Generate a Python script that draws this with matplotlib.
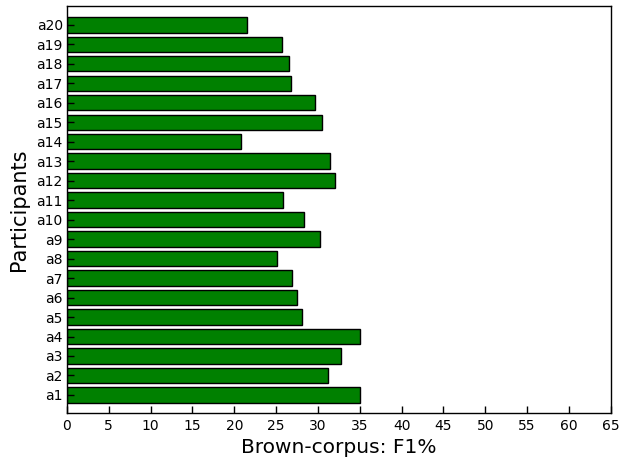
import matplotlib
matplotlib.use("Agg")
import matplotlib.pyplot as plt
import numpy as np

participants = [f"a{i}" for i in range(1, 21)]
f1_scores = [35.0, 31.2, 32.75, 35.0, 28.1, 27.55, 26.9, 25.05, 30.2, 28.3,
             25.8, 32.1, 31.5, 20.8, 30.5, 29.6, 26.75, 26.5, 25.7, 21.5]
x_ticks = list(range(0, 70, 5))

fig = plt.figure(figsize=(6.2, 4.62), dpi=100)
ax = fig.add_axes([0.108, 0.1055, 0.877, 0.8825])

pos = np.arange(len(participants))
ax.barh(pos, f1_scores, height=0.79, color="green", edgecolor="black", linewidth=1.0)

ax.set_yticks(pos)
ax.set_yticklabels(participants, fontsize=10)
ax.set_xticks(x_ticks)
ax.set_xticklabels([str(t) for t in x_ticks], fontsize=10)
ax.set_xlim(0, 65)
ax.set_ylim(-0.94, 19.99)

ax.tick_params(axis="both", direction="in", length=5, width=1, top=False, right=False)
ax.tick_params(axis="x", pad=4)
ax.tick_params(axis="y", pad=3)

ax.set_xlabel("Brown-corpus: F1%", fontsize=14.5, labelpad=4)
ax.set_ylabel("Participants", fontsize=15, labelpad=5)

for s in ax.spines.values():
    s.set_linewidth(1.0)

fig.savefig("out.png", dpi=100)
